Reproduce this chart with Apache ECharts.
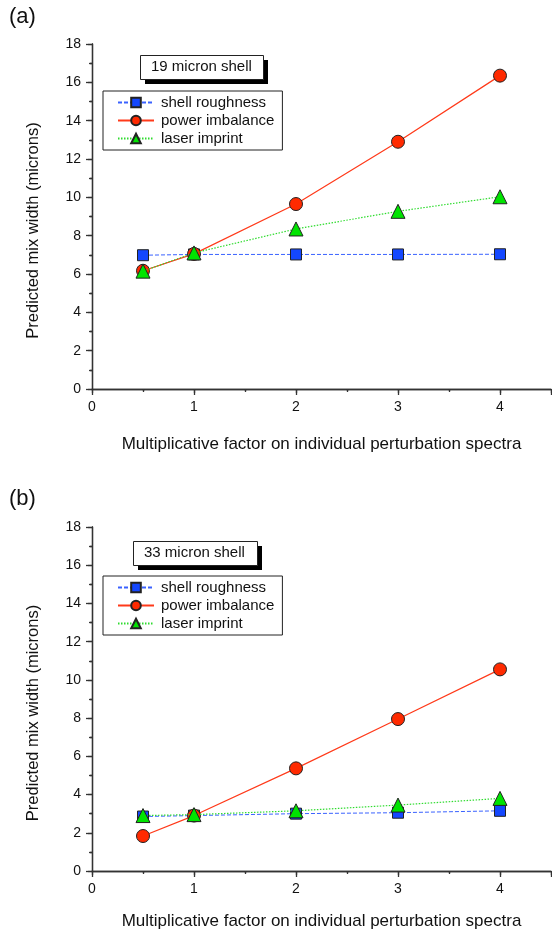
<!DOCTYPE html>
<html><head><meta charset="utf-8">
<script src="https://cdn.jsdelivr.net/npm/echarts@6/dist/echarts.min.js"></script>
<style>html,body{margin:0;padding:0;background:#fff}#c{width:552px;height:930px}</style>
</head><body><div id="c"></div>
<script>
const xValues = [0.5, 1, 2, 3, 4];
const seriesNames = ['shell roughness', 'power imbalance', 'laser imprint'];
// panel (a) 19 micron shell
const aRoughness = [6.98, 7.02, 7.02, 7.02, 7.03];
const aImbalance = [6.17, 7.05, 9.65, 12.9, 16.35];
const aImprint   = [6.15, 7.1, 8.35, 9.27, 10.03];
// panel (b) 33 micron shell
const bRoughness = [2.85, 2.9, 3.0, 3.05, 3.15];
const bImbalance = [1.83, 2.9, 5.37, 7.95, 10.55];
const bImprint   = [2.9, 2.95, 3.15, 3.45, 3.8];
const panelTitles = ['19 micron shell', '33 micron shell'];
const panelLabels = ['(a)', '(b)'];
const xTitle = 'Multiplicative factor on individual perturbation spectra';
const yTitle = 'Predicted mix width (microns)';

const FONT = 'Liberation Sans, Arial, sans-serif';
const grids = [
  {left: 92, top: 44, width: 459, height: 345, outerBoundsMode: 'none', containLabel: false},
  {left: 92, top: 527, width: 459, height: 344, outerBoundsMode: 'none', containLabel: false}
];
const xNameGaps = [47, 42];
const styles = [
  {symbol: 'rect', size: 11, color: '#1447ff', line: '#3a62ff', type: [4, 2], width: 1},
  {symbol: 'circle', size: 13, color: '#ff2a00', line: '#ff3a1a', type: 'solid', width: 1.2},
  {symbol: 'triangle', size: 14, color: '#00e400', line: '#2fdc2f', type: [1.5, 1.5], width: 1.2}
];
const axisLineStyle = {color: '#333', width: 1.3};
const xAxes = [], yAxes = [], series = [], legends = [], graphics = [];
const data = [[aRoughness, aImbalance, aImprint], [bRoughness, bImbalance, bImprint]];
grids.forEach((g, i) => {
  xAxes.push({
    type: 'value', gridIndex: i, min: 0, max: 4.5, interval: 1, position: 'bottom',
    name: xTitle, nameLocation: 'middle', nameGap: xNameGaps[i],
    nameTextStyle: {fontFamily: FONT, fontSize: 17, color: '#111'},
    axisLine: {lineStyle: axisLineStyle}, splitLine: {show: false},
    axisTick: {show: true, inside: false, length: 6, lineStyle: axisLineStyle},
    minorTick: {show: true, splitNumber: 2, length: 3, lineStyle: axisLineStyle},
    axisLabel: {fontFamily: FONT, fontSize: 14, color: '#111', margin: 11,
      formatter: v => (Math.abs(v - Math.round(v)) < 1e-9 ? String(v) : '')}
  });
  xAxes.push({
    type: 'value', gridIndex: i, min: 0, max: 4.5, interval: 1, position: 'top',
    axisLine: {lineStyle: axisLineStyle}, splitLine: {show: false},
    axisTick: {show: true, inside: true, length: 4, lineStyle: axisLineStyle},
    minorTick: {show: true, splitNumber: 2, length: 2, lineStyle: axisLineStyle},
    axisLabel: {show: false}
  });
  yAxes.push({
    type: 'value', gridIndex: i, min: 0, max: 18, interval: 2, position: 'left',
    name: yTitle, nameLocation: 'middle', nameGap: 50, nameRotate: 90,
    nameTextStyle: {fontFamily: FONT, fontSize: 16.5, color: '#111', padding: [0, 28, 0, 0]},
    axisLine: {show: true, lineStyle: axisLineStyle}, splitLine: {show: false},
    axisTick: {show: true, inside: false, length: 6, lineStyle: axisLineStyle},
    minorTick: {show: true, splitNumber: 2, length: 3, lineStyle: axisLineStyle},
    axisLabel: {fontFamily: FONT, fontSize: 14, color: '#111', margin: 11}
  });
  yAxes.push({
    type: 'value', gridIndex: i, min: 0, max: 18, interval: 2, position: 'right',
    axisLine: {show: true, lineStyle: axisLineStyle}, splitLine: {show: false},
    axisTick: {show: true, inside: true, length: 4, lineStyle: axisLineStyle},
    minorTick: {show: true, splitNumber: 2, length: 2, lineStyle: axisLineStyle},
    axisLabel: {show: false}
  });
  const names = [];
  data[i].forEach((vals, k) => {
    const s = styles[k];
    const name = seriesNames[k] + (i ? ' ' : '');
    names.push(name);
    series.push({
      name, type: 'line', xAxisIndex: 2 * i, yAxisIndex: 2 * i,
      data: xValues.map((x, j) => [x, vals[j]]),
      symbol: s.symbol, symbolSize: s.size, showAllSymbol: true,
      itemStyle: {color: s.color, borderColor: '#222', borderWidth: 1},
      lineStyle: {color: s.line, type: s.type, width: s.width},
      z: 3 + (k === 2 ? 1 : 0), animation: false
    });
  });
  const lb = i === 0 ? {x: 103, y: 91} : {x: 103, y: 576};
  legends.push({
    data: names.map(n => ({name: n})), orient: 'vertical', left: lb.x, top: lb.y,
    width: 175, padding: [4, 8, 4, 14], itemGap: 3, itemWidth: 36, itemHeight: 12,
    borderColor: '#222', borderWidth: 1, backgroundColor: '#fff',
    textStyle: {fontFamily: FONT, fontSize: 15, color: '#111', padding: [0, 0, 0, 2]},
    formatter: n => n.trim(), selectedMode: false, z: 10
  });
  const tb = i === 0 ? {x: 140, y: 55, w: 123, h: 24} : {x: 133, y: 541, w: 124, h: 24};
  graphics.push({type: 'rect', left: tb.x + 5, top: tb.y + 5, shape: {width: tb.w, height: tb.h},
    style: {fill: '#000'}, z: 20});
  graphics.push({type: 'rect', left: tb.x, top: tb.y, shape: {width: tb.w, height: tb.h},
    style: {fill: '#fff', stroke: '#222', lineWidth: 1}, z: 21});
  graphics.push({type: 'text', left: tb.x + 11, top: tb.y + 4,
    style: {text: panelTitles[i], font: '15px ' + FONT, fill: '#111'}, z: 22});
  graphics.push({type: 'text', left: 9, top: i === 0 ? 6 : 488,
    style: {text: panelLabels[i], font: '22px ' + FONT, fill: '#111'}, z: 22});
});

const chart = echarts.init(document.getElementById('c'), null, {renderer: 'canvas'});
chart.setOption({
  animation: false, backgroundColor: '#fff',
  grid: grids, xAxis: xAxes, yAxis: yAxes, series, legend: legends, graphic: graphics
});
</script></body></html>
